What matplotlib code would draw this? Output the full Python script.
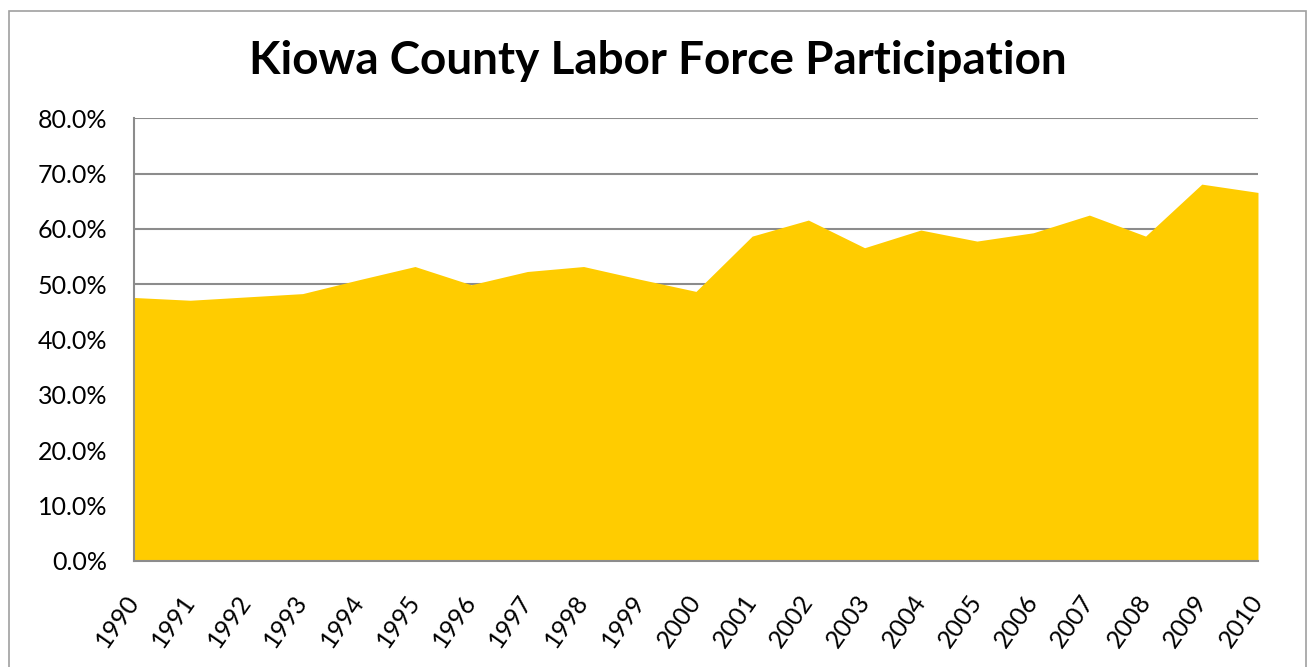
import matplotlib.pyplot as plt
from matplotlib.patches import Rectangle
from matplotlib.ticker import FuncFormatter

#------------------------------DATA-------------------------------------------------
years = [1990, 1991, 1992, 1993, 1994, 1995, 1996, 1997, 1998, 1999, 2000,
         2001, 2002, 2003, 2004, 2005, 2006, 2007, 2008, 2009, 2010]
participation = [47.6, 47.1, 47.7, 48.3, 50.8, 53.2, 49.9, 52.3, 53.2, 50.9, 48.7,
                 58.7, 61.6, 56.6, 59.8, 57.8, 59.3, 62.5, 58.7, 68.1, 66.6]
title_text = 'Kiowa County Labor Force Participation'

#------------------------------PLOT-------------------------------------------------
plt.rcParams['font.family'] = ['Lato', 'DejaVu Sans']

fig = plt.figure(figsize=(13.07, 6.67), dpi=100)
ax = fig.add_axes([0.1025, 0.1594, 0.86, 0.6632])

x = list(range(len(years)))
ax.fill_between(x, 0, participation, color='#FFCC00', linewidth=0, zorder=2)

ax.set_xlim(0, len(years) - 1)
ax.set_ylim(0, 80)
ax.set_yticks(range(0, 81, 10))
ax.yaxis.set_major_formatter(FuncFormatter(lambda v, p: f'{v:.1f}%'))
ax.set_xticks(x)
ax.set_xticklabels([str(y) for y in years], rotation=55, ha='right',
                   va='center', rotation_mode='anchor', fontsize=18)
ax.tick_params(axis='y', labelsize=18, length=0, pad=19)
ax.tick_params(axis='x', length=0, pad=26)

ax.grid(axis='y', color='#8c8c8c', linewidth=1.5, zorder=1)
ax.set_axisbelow(True)
for side in ['top', 'right']:
    ax.spines[side].set_visible(False)
for side in ['left', 'bottom']:
    ax.spines[side].set_color('#8c8c8c')
    ax.spines[side].set_linewidth(1.5)
    ax.spines[side].set_zorder(3)

fig.text(0.5035, 0.908, title_text, ha='center', va='center',
         fontsize=33, fontweight='bold')

# outer chart border
fig.patches.append(Rectangle((9 / 1307, -0.01), 1297 / 1307, 1 - 11 / 667 + 0.01,
                             transform=fig.transFigure, fill=False,
                             edgecolor='#a0a0a0', linewidth=1.2))

plt.savefig('out.png', dpi=100)
